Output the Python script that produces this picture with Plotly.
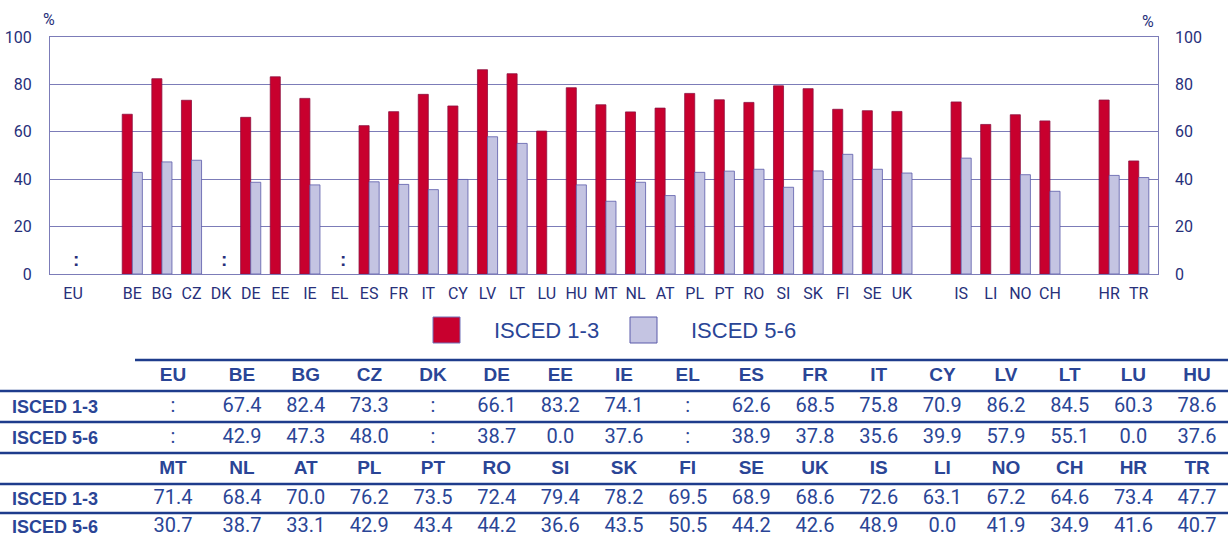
import plotly.graph_objects as go

# Countries in display order and their values (%); None = not available
countries = ["EU", "BE", "BG", "CZ", "DK", "DE", "EE", "IE", "EL", "ES", "FR", "IT",
             "CY", "LV", "LT", "LU", "HU", "MT", "NL", "AT", "PL", "PT", "RO", "SI",
             "SK", "FI", "SE", "UK", "IS", "LI", "NO", "CH", "HR", "TR"]
isced_1_3 = [None, 67.4, 82.4, 73.3, None, 66.1, 83.2, 74.1, None, 62.6, 68.5, 75.8,
             70.9, 86.2, 84.5, 60.3, 78.6, 71.4, 68.4, 70.0, 76.2, 73.5, 72.4, 79.4,
             78.2, 69.5, 68.9, 68.6, 72.6, 63.1, 67.2, 64.6, 73.4, 47.7]
isced_5_6 = [None, 42.9, 47.3, 48.0, None, 38.7, 0.0, 37.6, None, 38.9, 37.8, 35.6,
             39.9, 57.9, 55.1, 0.0, 37.6, 30.7, 38.7, 33.1, 42.9, 43.4, 44.2, 36.6,
             43.5, 50.5, 44.2, 42.6, 48.9, 0.0, 41.9, 34.9, 41.6, 40.7]
series_names = ["ISCED 1-3", "ISCED 5-6"]
y_ticks = [0, 20, 40, 60, 80, 100]

# Country groups separated by an empty slot on the axis
groups = [countries[0:1], countries[1:28], countries[28:32], countries[32:34]]

W, H = 1228, 540
RED = "#C8002E"
LAV = "#C4C4E2"
LAV_EDGE = "#5B5BAA"
GRID = "#7C7CB8"
NAVY = "#27307A"
BLUE = "#2A4596"
CONDENSED = "Roboto, sans-serif"
SANS = "Liberation Sans, Arial, sans-serif"

order = []
for i, g in enumerate(groups):
    if i:
        order.append(" " * i)
    order.extend(g)


def edge_widths(vals):
    # no outline on zero-height bars
    return [0.8 if v else 0 for v in vals]


fig = go.Figure()
fig.add_trace(go.Bar(x=countries, y=isced_1_3, name=series_names[0],
                     marker=dict(color=RED, line=dict(color="#8E1040",
                                                      width=edge_widths(isced_1_3))),
                     showlegend=False, hoverinfo="x+y+name"))
fig.add_trace(go.Bar(x=countries, y=isced_5_6, name=series_names[1],
                     marker=dict(color=LAV, line=dict(color=LAV_EDGE,
                                                      width=edge_widths(isced_5_6))),
                     showlegend=False, hoverinfo="x+y+name"))
# carrier for the right-hand axis
fig.add_trace(go.Scatter(x=countries, y=isced_1_3, yaxis="y2", mode="none",
                         showlegend=False, hoverinfo="skip"))

# ---- data table below the chart, laid out on a pixel canvas (x3/y3) ----
col_x = [173] + [242 + 63.67 * k for k in range(16)]
half = 17
row_y = [(376, 407, 438), (469, 499, 527)]
rule_y = [(360, 135), (391, 0), (422, 0), (453, 0), (484, 0), (513, 0)]


def fmt(v):
    return ":" if v is None else f"{v:.1f}"


hx, hy, ht = [], [], []
vx, vy, vt = [], [], []
for b in range(2):
    hdr, r1, r2 = row_y[b]
    for j, c in enumerate(countries[b * half:(b + 1) * half]):
        k = b * half + j
        hx.append(col_x[j]); hy.append(hdr); ht.append(c)
        for yy, vals in ((r1, isced_1_3), (r2, isced_5_6)):
            vx.append(col_x[j]); vy.append(yy); vt.append(fmt(vals[k]))

fig.add_trace(go.Scatter(x=vx, y=vy, text=vt, mode="text", xaxis="x3", yaxis="y3",
                         textfont=dict(family=CONDENSED, size=20, color=BLUE),
                         cliponaxis=False, showlegend=False, hoverinfo="skip"))
fig.add_trace(go.Scatter(x=hx, y=hy, text=ht, mode="text", xaxis="x3", yaxis="y3",
                         textfont=dict(family=SANS, size=19, color=BLUE, weight="bold"),
                         cliponaxis=False, showlegend=False, hoverinfo="skip"))

ann = []
shapes = []
for b in range(2):
    for yy, name in zip(row_y[b][1:], series_names):
        ann.append(dict(x=10, y=yy, xref="x3", yref="y3", text=f"<b>{name}</b>",
                        showarrow=False, xanchor="left",
                        font=dict(family=SANS, size=18, color=BLUE)))

for (yy, x0) in rule_y:
    shapes.append(dict(type="line", xref="x3", yref="y3", x0=x0, x1=W, y0=yy, y1=yy,
                       line=dict(color="#1E3C8C", width=2.5)))

# ":" for missing values in the chart
for c, v in zip(countries, isced_1_3):
    if v is None:
        ann.append(dict(x=c, y=0, xref="x", yref="y", text="<b>:</b>", showarrow=False,
                        yanchor="bottom", yshift=2, xshift=3,
                        font=dict(family=SANS, size=19, color=NAVY)))

# % unit labels
ann.append(dict(x=49, y=19, xref="x3", yref="y3", text="%", showarrow=False,
                font=dict(family=CONDENSED, size=16, color=NAVY)))
ann.append(dict(x=1148, y=21, xref="x3", yref="y3", text="%", showarrow=False,
                font=dict(family=CONDENSED, size=16, color=NAVY)))

# legend
for (x0, name, fill, edge) in [(433, series_names[0], RED, "#7070B8"),
                               (630, series_names[1], LAV, LAV_EDGE)]:
    shapes.append(dict(type="rect", xref="x3", yref="y3", x0=x0, x1=x0 + 27,
                       y0=317, y1=343, fillcolor=fill, line=dict(color=edge, width=1)))
    ann.append(dict(x=x0 + 59, y=330, xref="x3", yref="y3", text=name,
                    showarrow=False, xanchor="left",
                    font=dict(family=SANS, size=22, color=BLUE)))

axis_common = dict(range=[0, 100], tickvals=y_ticks, zeroline=False, ticks="",
                   tickfont=dict(family=CONDENSED, size=16, color=NAVY),
                   fixedrange=True, automargin=False)

fig.update_layout(
    template="none",
    width=W, height=H,
    margin=dict(l=0, r=0, t=0, b=0, pad=0),
    paper_bgcolor="white", plot_bgcolor="rgba(0,0,0,0)",
    barmode="group", bargap=0.32, bargroupgap=0,
    xaxis=dict(domain=[50 / W, 1158 / W], type="category",
               categoryorder="array", categoryarray=order,
               range=[-0.78, len(order) - 1 + 0.65],
               showline=True, linecolor=GRID, linewidth=1, mirror=True,
               showgrid=False, ticks="", ticklabelstandoff=5, automargin=False,
               tickfont=dict(family=CONDENSED, size=16, color=NAVY), fixedrange=True),
    yaxis=dict(domain=[1 - 274 / H, 1 - 37 / H], **axis_common, showline=True,
               linecolor=GRID, linewidth=1, mirror=True, showgrid=True,
               gridcolor=GRID, gridwidth=1, ticklabelstandoff=14),
    yaxis2=dict(overlaying="y", side="right", anchor="x", **axis_common,
                showline=False, showgrid=False, ticklabelstandoff=16),
    xaxis3=dict(domain=[0, 1], range=[0, W], visible=False, fixedrange=True,
                anchor="y3", automargin=False),
    yaxis3=dict(domain=[0, 1], range=[H, 0], visible=False, fixedrange=True,
                anchor="x3", automargin=False),
    annotations=ann, shapes=shapes,
)

fig.write_html("out.html")
